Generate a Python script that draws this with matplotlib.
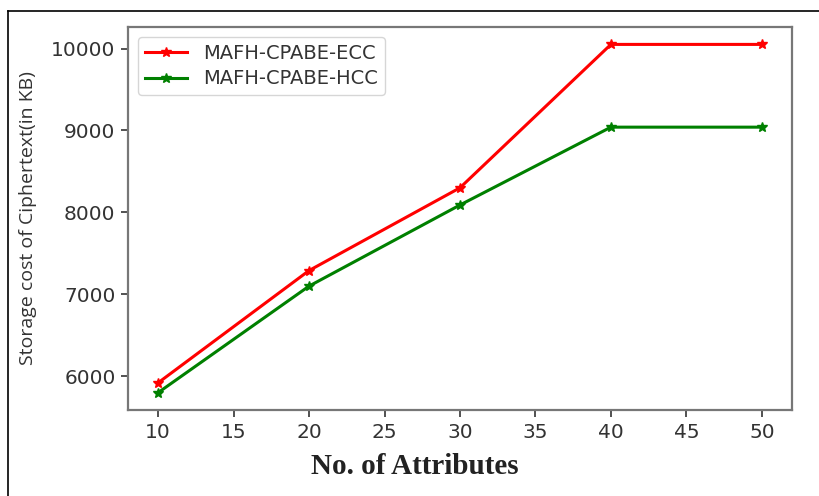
import matplotlib
matplotlib.use("Agg")
import matplotlib.pyplot as plt
from matplotlib.lines import Line2D

attributes = [10, 20, 30, 40, 50]
ecc = [5920, 7290, 8300, 10050, 10050]
hcc = [5800, 7100, 8090, 9040, 9040]
labels = ["MAFH-CPABE-ECC", "MAFH-CPABE-HCC"]

fig = plt.figure(figsize=(8.19, 4.96), dpi=100)
ax = fig.add_axes([128/819, 1 - 410/496, (792-128)/819, (410-27)/496])

ax.plot(attributes, ecc, color="red", marker="*", markersize=7, linewidth=2.2, label=labels[0])
ax.plot(attributes, hcc, color="green", marker="*", markersize=7, linewidth=2.2, label=labels[1])

ax.set_xticks([10, 15, 20, 25, 30, 35, 40, 45, 50])
ax.set_yticks([6000, 7000, 8000, 9000, 10000])
ax.tick_params(labelsize=14.5, colors="#333333", length=5, width=1.2, pad=4)
for s in ax.spines.values():
    s.set_color("#777777")
    s.set_linewidth(1.6)

yl = ax.set_ylabel("Storage cost of Ciphertext(in KB)", fontsize=14, color="#333333",
                   fontfamily="Open Sans")
yl.set_va("center")
ax.yaxis.set_label_coords((28 - 128) / 664, (410 - 218) / 383)

xl = ax.set_xlabel("No. of Attributes", fontsize=21, fontweight="bold",
                   fontfamily="Liberation Serif", color="#222222")
xl.set_va("center")
ax.xaxis.set_label_coords((415 - 128) / 664, -(467 - 410) / 383)

leg = ax.legend(loc="upper left", fontsize=14, frameon=True, fancybox=True,
                borderpad=0.35, handlelength=2.2, labelspacing=0.35,
                bbox_to_anchor=(0.0, 1.0))
for t in leg.get_texts():
    t.set_color("#333333")

# outer frame lines (top and left)
fig.add_artist(Line2D([8/819, 1], [1 - 11/496, 1 - 11/496], transform=fig.transFigure,
                      color="black", linewidth=1.2))
fig.add_artist(Line2D([8/819, 8/819], [0, 1 - 11/496], transform=fig.transFigure,
                      color="black", linewidth=1.2))

fig.savefig("out.png", dpi=100)
